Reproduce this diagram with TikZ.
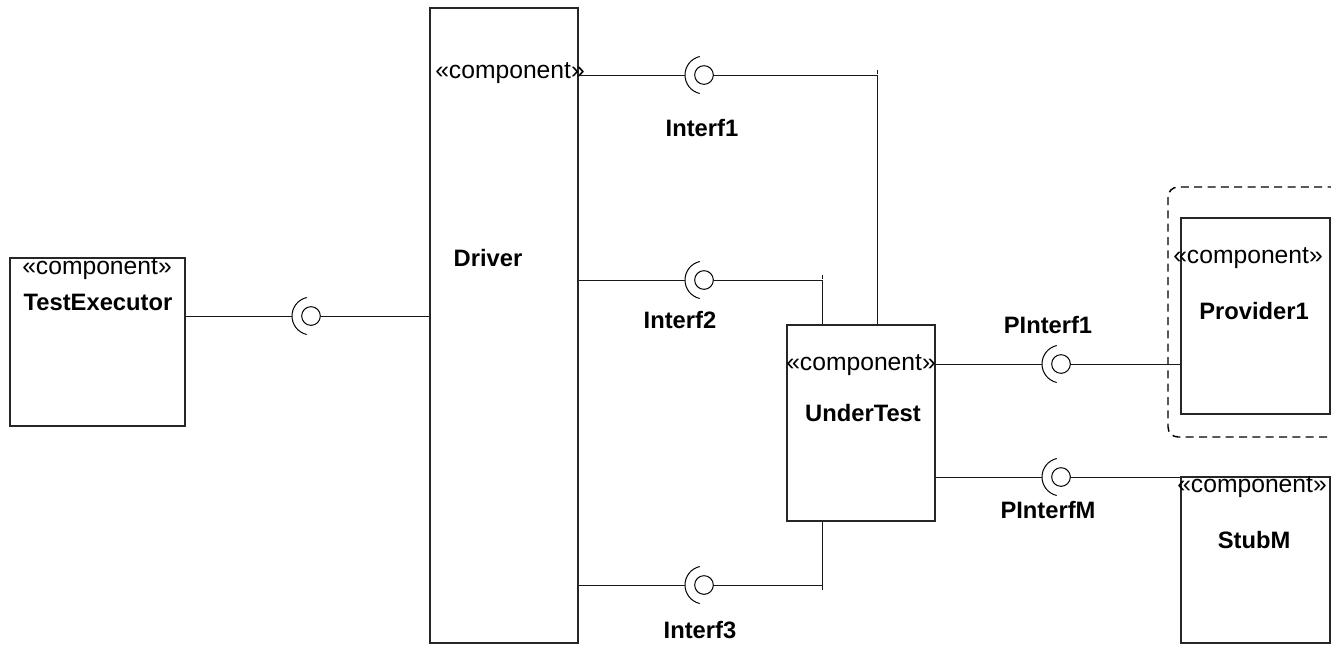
\documentclass[tikz,border=0pt]{standalone}
\usepackage{fontspec}
\setmainfont{Liberation Sans}
\newcommand\socketball[3]{%
  \node[ball] (#1) at (#2,#3) {};
  \coordinate (#1s) at ([xshift=-14.25pt]#1.center);
  \draw (#1s) arc[start angle=180,end angle=103,radius=14.25pt]
        (#1s) arc[start angle=180,end angle=257,radius=14.25pt];}
\begin{document}
\begin{tikzpicture}[x=0.75pt,y=-0.75pt,line width=0.75pt,
  comp/.style={draw=black!85, inner sep=0, line width=0.8pt},
  ball/.style={circle, draw, minimum size=14pt, inner sep=0},
  stereo/.style={font=\fontsize{18.5}{21}\selectfont, inner sep=0},
  cname/.style={font=\bfseries\fontsize{17.8}{20}\selectfont, inner sep=0},
  lbl/.style={font=\bfseries\fontsize{17.8}{20}\selectfont, inner sep=0},
  wire/.style={draw=black!90}]
\useasboundingbox (0,0) rectangle (1331,651);
\clip (0,0) rectangle (1331,651);

% dashed boundary around the provider
\draw[line width=1.1pt, dash pattern=on 6pt off 4pt, rounded corners=7.5pt]
  (1168,187) rectangle (1360,437);

% components
\node[comp, minimum width=131.25pt, minimum height=126pt] (te) at (97.5,342) {};
\node[comp, minimum width=111pt, minimum height=476.25pt] (drv) at (504,325.5) {};
\node[comp, minimum width=111pt, minimum height=147pt] (ut) at (861,423) {};
\node[comp, minimum width=111.75pt, minimum height=147pt] (p1) at (1255.5,316) {};
\node[comp, minimum width=111.75pt, minimum height=124.5pt] (sm) at (1255.5,560) {};

\node[stereo] (tes) at (97,269) {«component»};
\node[cname] (ten) at (98,302) {TestExecutor};
\node[stereo] (drvs) at (510,73) {«component»};
\node[cname] (drvn) at (488,258) {Driver};
\node[stereo] (uts) at (861,365) {«component»};
\node[cname] (utn) at (863,413) {UnderTest};
\node[stereo] (p1s) at (1248,258) {«component»};
\node[cname] (p1n) at (1254,311) {Provider1};
\node[stereo] (sms) at (1252,487) {«component»};
\node[cname] (smn) at (1254,540) {StubM};

% ball-and-socket interfaces
\socketball{b0}{311}{316}
\socketball{b1}{704}{75}
\socketball{b2}{704}{280}
\socketball{b3}{704}{585}
\socketball{bp1}{1061}{364}
\socketball{bpm}{1061}{477}

% interface labels
\node[lbl] (l1) at (702,128) {Interf1};
\node[lbl] (l2) at (680,320) {Interf2};
\node[lbl] (l3) at (700,630) {Interf3};
\node[lbl] (lp1) at (1048,325) {PInterf1};
\node[lbl] (lpm) at (1048,510) {PInterfM};

% wiring
\draw[wire] (te.east |- b0s) -- (b0s);
\draw[wire] (b0.east) -- (drv.west |- b0);

\draw[wire] (drv.east |- b1s) -- (b1s);
\draw[wire] (b1.east) -| ([xshift=12pt]ut.north);
\draw[wire] ([xshift=12pt,yshift=187.5pt]ut.north) -- ++(0,-4);

\draw[wire] (drv.east |- b2s) -- (b2s);
\draw[wire] (b2.east) -| ([xshift=-29.25pt]ut.north);
\draw[wire] ([xshift=-29.25pt,yshift=33.75pt]ut.north) -- ++(0,-4);

\draw[wire] (drv.east |- b3s) -- (b3s);
\draw[wire] (b3.east) -| ([xshift=-29.25pt]ut.south);
\draw[wire] ([xshift=-29.25pt,yshift=-48pt]ut.south) -- ++(0,4);

\draw[wire] (ut.east |- bp1s) -- (bp1s);
\draw[wire] (bp1.east) -- (p1.west |- bp1);

\draw[wire] (ut.east |- bpms) -- (bpms);
\draw[wire] (bpm.east) -- (sm.west |- bpm);
\end{tikzpicture}
\end{document}
